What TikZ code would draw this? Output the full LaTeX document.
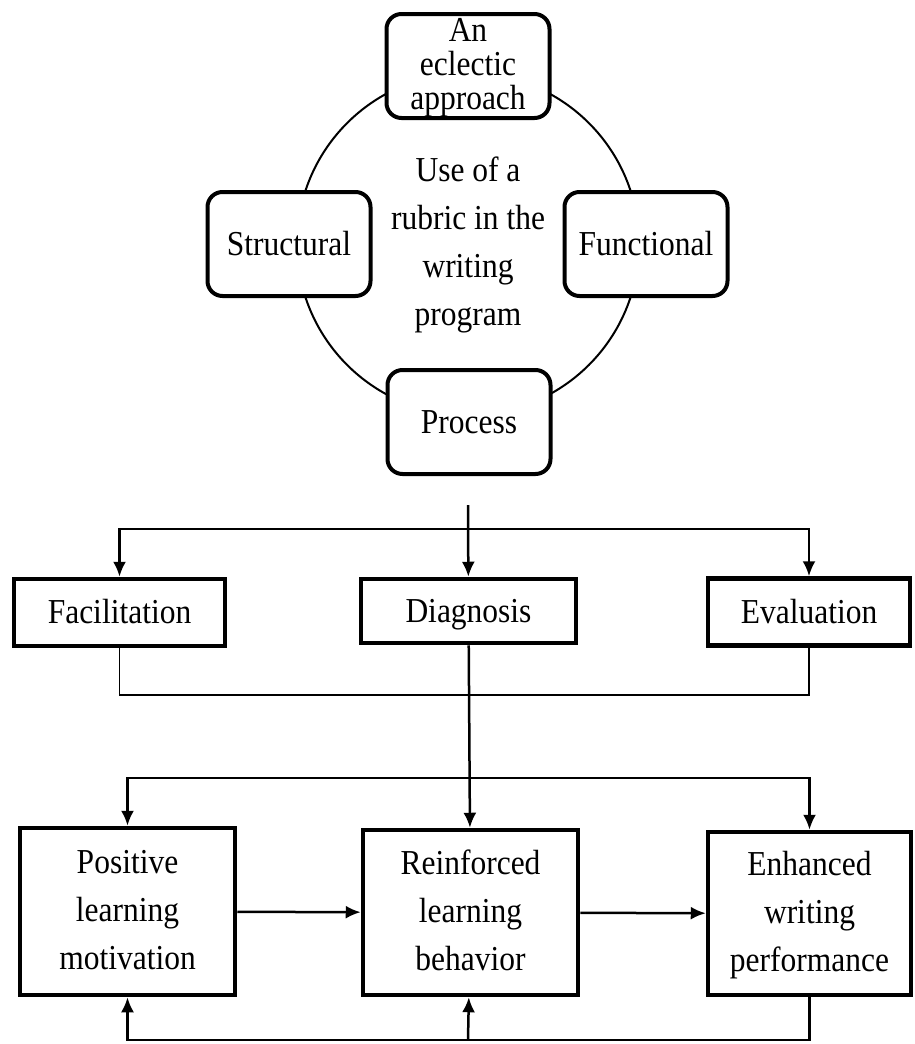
\documentclass[tikz,border=0pt]{standalone}
\usepackage{fontspec}
\setmainfont{Liberation Serif}[FakeStretch=0.9]
\usetikzlibrary{arrows.meta,positioning}

\begin{document}
\begin{tikzpicture}[
    x=1pt, y=-1pt,
    >={Latex[length=15pt,width=13pt]},
    font=\fontsize{35}{48}\selectfont,
    approach/.style={
		rectangle,
		rounded corners=15pt,
		draw=black,
		line width=4pt,
		fill=white,
		inner sep=0pt,
		text centered,
		minimum width=163pt,
		minimum height=104pt
	},
	role/.style={
		rectangle,
		draw=black,
		line width=4.5pt,
		fill=white,
		inner sep=0pt,
		text centered
	},
	oneline/.style={
		text height=31pt,
		text depth=9pt
	},
	link/.style={
		line width=2.5pt
	},
	joint/.style={
		line width=1.5pt
	}
  ]
  \useasboundingbox (0,0) rectangle (915,1044);

  % The circle of approaches
  \draw [line width=2pt] (468,244) circle [radius=171pt];

  \node [approach] (eclectic) at (468,66)
 {%
 \fontsize{35}{32}\selectfont
 \raisebox{-3pt}[\height][\depth]{%
 \begin{tabular}{c}
  An\\
  eclectic\\
  approach
 \end{tabular}}
 };

  \node [approach, oneline] (structural) at (289,244) {Structural};
  \node [approach, oneline] (functional) at (646,244) {Functional};
  \node [approach, oneline] (process) at (469,422) {Process};

  \node (rubric) at (468,244)
 {%
 \begin{tabular}{c}
  Use of a\\
  rubric in the\\
  writing\\
  program
 \end{tabular}
 };

  % Uses of the rubric
  \node [role, oneline, minimum width=211pt, minimum height=67pt] (facilitation) at (119.5,612.5) {Facilitation};
  \node [role, oneline, minimum width=215pt, minimum height=64pt] (diagnosis) at (468.5,611) {Diagnosis};
  \node [role, oneline, minimum width=202pt, minimum height=67pt] (evaluation) at (809,612) {Evaluation};

  % Outcomes
  \node [role, minimum width=215pt, minimum height=167pt] (motivation) at (127.5,911.5)
 {%
 \begin{tabular}{c}
  Positive\\
  learning\\
  motivation
 \end{tabular}
 };

  \node [role, minimum width=215pt, minimum height=165pt] (behavior) at (470.5,912.5)
 {%
 \begin{tabular}{c}
  Reinforced\\
  learning\\
  behavior
 \end{tabular}
 };

  \node [role, minimum width=203pt, minimum height=163pt] (performance) at (809.5,913.5)
 {%
 \begin{tabular}{c}
  Enhanced\\
  writing\\
  performance
 \end{tabular}
 };

  \coordinate (split) at (468,505);
  \coordinate (hub1) at (468,529);
  \coordinate (join) at (468,695);
  \coordinate (hub2) at (468,778);
  \coordinate (back) at (468,1040);

  \draw [link,->] (split) -- (diagnosis);
  \draw [link,->] (hub1) -| (facilitation);
  \draw [link,->] (hub1) -| (evaluation);
  \draw [joint] (facilitation) |- (join) -| (evaluation);

  \draw [link,->] (diagnosis) -- (behavior);
  \draw [link,->] (hub2) -| (motivation);
  \draw [link,->] (hub2) -| (performance);

  \draw [link,->] (motivation) -- (behavior);
  \draw [link,->] (behavior) -- (performance);
  \draw [link,->] (performance) |- (back) -| (motivation);
  \draw [link,->] (back) -- (behavior);

\end{tikzpicture}
\end{document}
